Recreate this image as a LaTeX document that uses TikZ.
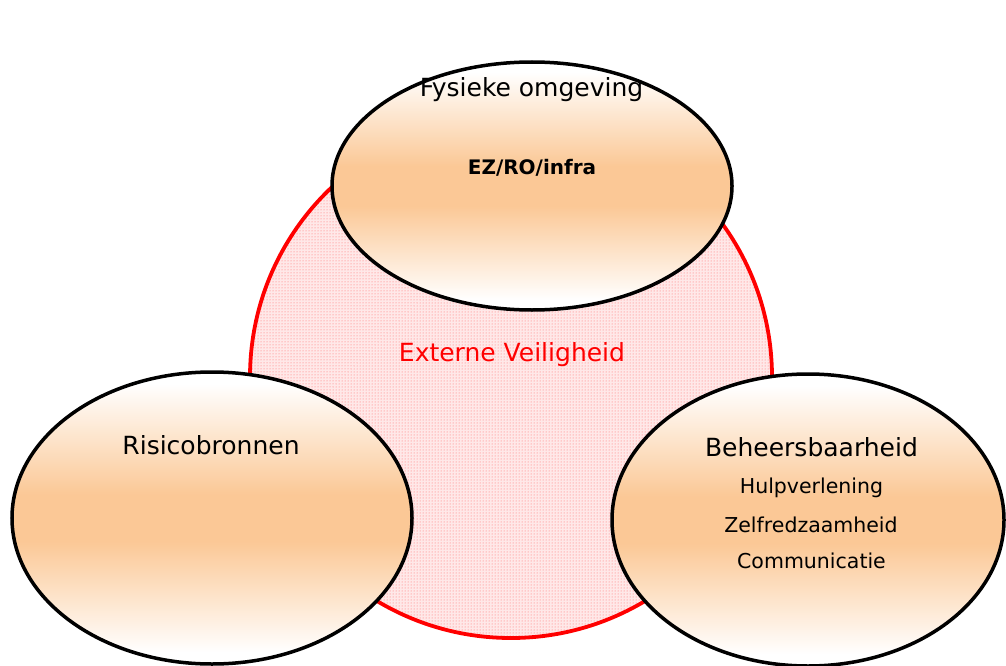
\documentclass[tikz,border=0pt]{standalone}
\usepackage{fontspec}
\setmainfont{DejaVu Sans}
\usetikzlibrary{shapes.geometric,patterns}
\definecolor{peach}{RGB}{251,200,150}
\definecolor{evred}{RGB}{255,0,0}
\pgfdeclareverticalshading{peachy}{100bp}{color(0bp)=(white); color(27bp)=(white); color(46bp)=(peach); color(54bp)=(peach); color(73bp)=(white); color(100bp)=(white)}
\tikzset{
  areabubble/.style={ellipse, draw=black, line width=3.5pt, shading=peachy, inner sep=0pt},
  lbl/.style={anchor=base, inner sep=0pt, text=black},
  sublbl/.style={lbl, font=\fontsize{20.5}{24}\selectfont},
  mainlbl/.style={lbl, font=\fontsize{25}{30}\selectfont},
}
\begin{document}
\begin{tikzpicture}[x=1pt,y=-1pt]
\useasboundingbox (0,0) rectangle (1006,666);
\node[circle, draw=evred, line width=3.8pt, minimum size=522pt, inner sep=0pt,
      preaction={fill=red!9}, pattern=dots, pattern color=red!60] (ev) at (511,377) {};
\node[areabubble, minimum width=400pt, minimum height=248pt] (fys) at (532,186) {};
\node[areabubble, minimum width=400pt, minimum height=292pt] (ris) at (212,518) {};
\node[areabubble, minimum width=392pt, minimum height=292pt] (beh) at (808,520) {};
\node[mainlbl, text=evred] (evt) at (512,361) {Externe Veiligheid};
\node[mainlbl] (fyst) at (531.5,97) {Fysieke omgeving};
\node[lbl, font=\fontsize{20}{24}\selectfont\bfseries] (ez) at (532,174) {EZ/RO/infra};
\node[mainlbl] (rist) at (211,454) {Risicobronnen};
\node[mainlbl] (beht) at (811.5,456) {Beheersbaarheid};
\node[sublbl] (hulp) at (811.5,493) {Hulpverlening};
\node[sublbl] (zelf) at (811,532) {Zelfredzaamheid};
\node[sublbl] (comm) at (811.5,568) {Communicatie};
\end{tikzpicture}
\end{document}
